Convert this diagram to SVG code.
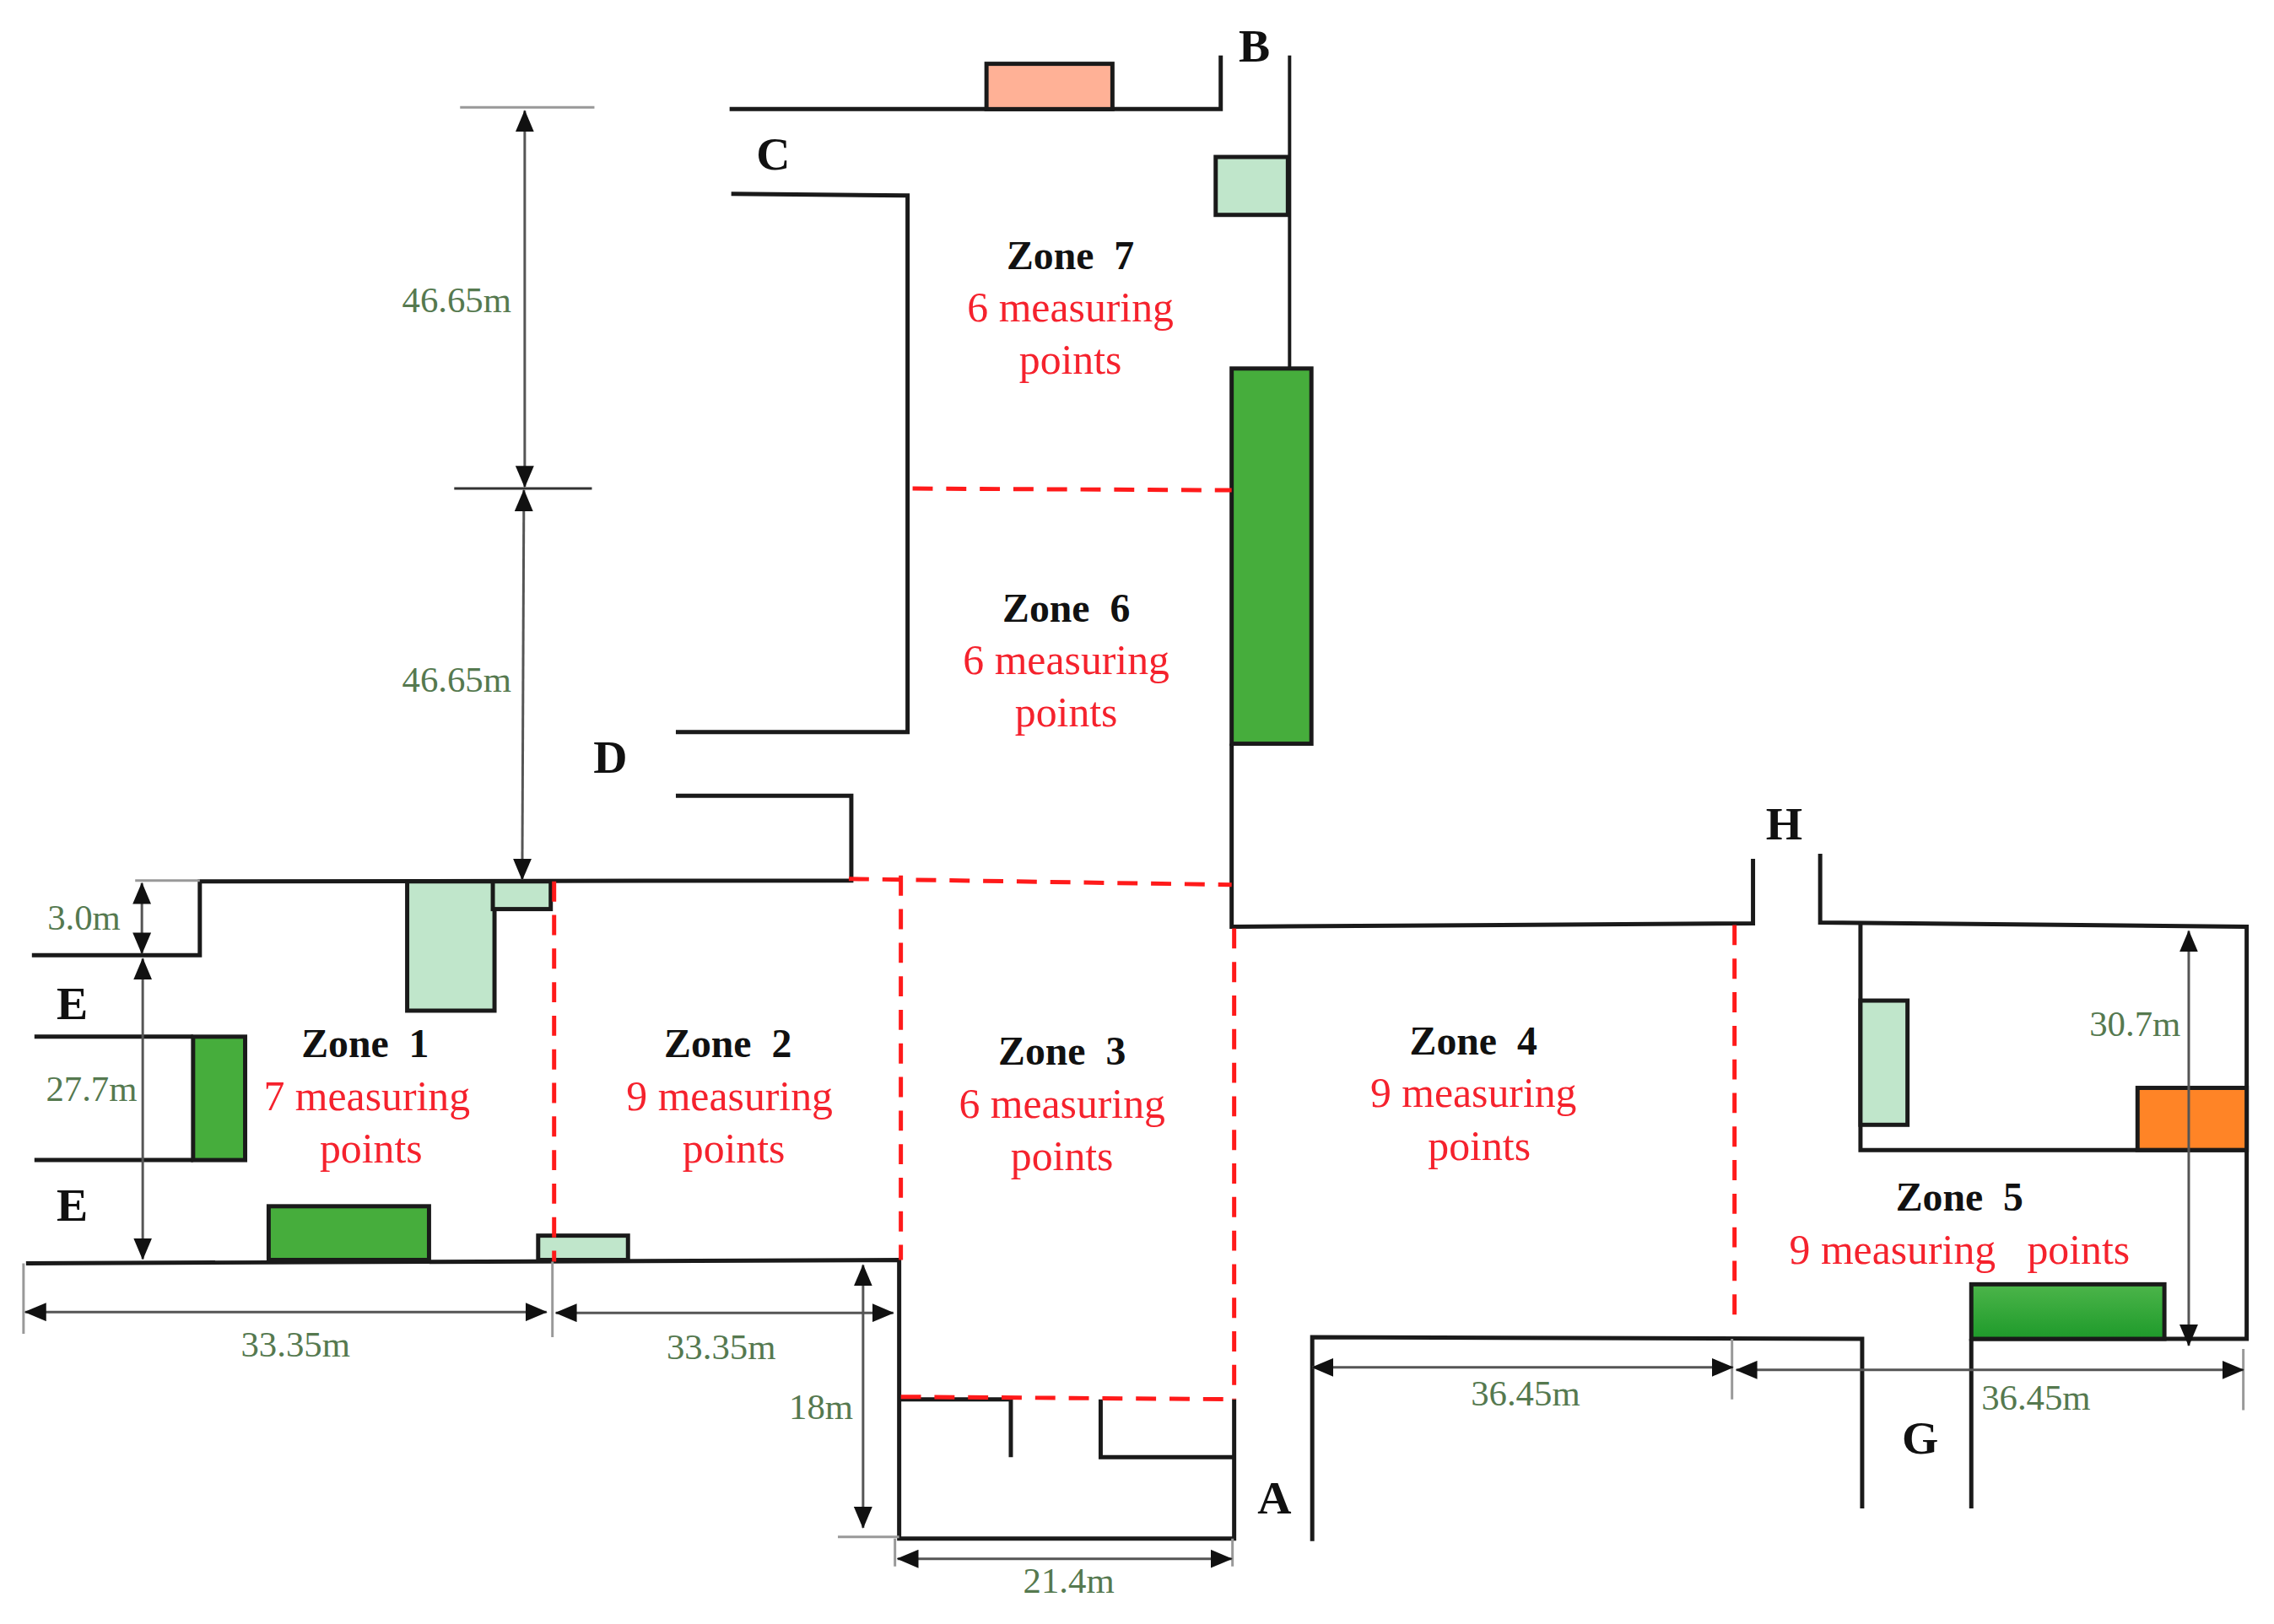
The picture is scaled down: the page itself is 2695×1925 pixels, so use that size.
<svg xmlns="http://www.w3.org/2000/svg" width="2695" height="1925" viewBox="0 0 2695 1925">
<style>
.wall{fill:none;stroke:#1a1a1a;stroke-width:5;stroke-linejoin:miter}
.thin{stroke-width:4}
.box{stroke:#1a1a1a;stroke-width:5}
.lg{fill:#c0e6cb}.dg{fill:#46ad3c}.sal{fill:#ffb196}.or{fill:#ff8426}
.zone{fill:none;stroke:#ff1a1a;stroke-width:5;stroke-dasharray:24 16}
.dim{fill:none;stroke:#555;stroke-width:3;marker-start:url(#ah);marker-end:url(#ah)}
.ext{fill:none;stroke:#999;stroke-width:3}
.ext.dk{stroke:#333}
text{font-family:"Liberation Serif","Times New Roman",serif;text-anchor:middle}
.zt{font-size:48px;font-weight:bold;fill:#111;white-space:pre}
.mp{font-size:50px;fill:#f5222d;white-space:pre}
.dm{font-size:43px;fill:#55794f}
.lb{font-size:56px;font-weight:bold;fill:#111}
</style>
<defs>
<marker id="ah" viewBox="0 0 26 22" refX="25" refY="11" markerWidth="26" markerHeight="22" markerUnits="userSpaceOnUse" orient="auto-start-reverse"><path d="M0 0L26 11L0 22Z" fill="#111"/></marker>
<linearGradient id="gg" x1="0" y1="0" x2="0" y2="1"><stop offset="0" stop-color="#4cb54a"/><stop offset="1" stop-color="#1e9a2a"/></linearGradient>
</defs>
<rect width="2695" height="1925" fill="#fff"/>
<g id="plan" transform="scale(.995)">
<g id="walls">
<path class="wall" d="M869 130H1454V66"/>
<path class="wall thin" d="M1536 66V439"/>
<path class="wall" d="M1467 886V1104L2088 1100V1023"/>
<path class="wall" d="M2168 1017V1099L2676 1104V1595H2348"/>
<path class="wall" d="M2348 1595V1797"/>
<path class="wall" d="M2216 1100V1370H2676"/>
<path class="wall" d="M1563 1836V1593L2218 1595V1797"/>
<path class="wall" d="M31 1505L1071 1501V1833H1470V1667"/>
<path class="wall" d="M1071 1667H1204V1736"/>
<path class="wall" d="M1311 1667V1736H1470"/>
<path class="wall" d="M38 1138H238V1050L1014 1049V948H805"/>
<path class="wall" d="M805 872H1081V233L871 231"/>
<path class="wall" d="M41 1235H230M41 1382H230"/>
</g>
<g id="room-salmon"><rect class="box sal" x="1175" y="76" width="150" height="54"/></g>
<g id="room-b"><rect class="box lg" x="1448" y="187" width="86" height="69"/></g>
<g id="room-zone6"><rect class="box dg" x="1467" y="439" width="95" height="447"/></g>
<g id="room-zone1-a"><rect class="box lg" x="485" y="1050" width="104" height="154"/></g>
<g id="room-zone1-b"><rect class="box lg" x="587" y="1050" width="69" height="33"/></g>
<g id="room-zone1-c"><rect class="box dg" x="230" y="1235" width="62" height="147"/></g>
<g id="room-zone1-d"><rect class="box dg" x="320" y="1437" width="191" height="64"/></g>
<g id="room-zone1-e"><rect class="box lg" x="641" y="1472" width="107" height="29"/></g>
<g id="room-zone5-a"><rect class="box lg" x="2216" y="1192" width="56" height="148"/></g>
<g id="room-zone5-b"><rect class="box or" x="2546" y="1296" width="130" height="74"/></g>
<g id="room-zone5-c"><rect class="box" fill="url(#gg)" x="2348" y="1530" width="230" height="65"/></g>
<g id="zone-boundaries">
<path class="zone" d="M1087 582L1467 584"/>
<path class="zone" d="M1011 1047L1467 1054"/>
<path class="zone" d="M660 1050V1503"/>
<path class="zone" d="M1073 1043V1501"/>
<path class="zone" d="M1470 1106V1667"/>
<path class="zone" d="M1073 1664L1470 1667"/>
<path class="zone" d="M2066 1102V1581"/>
</g>
<g id="connectors">
<path class="ext" d="M548 128H708"/>
<path class="ext dk" d="M541 582H705"/>
<path class="ext" d="M161 1049H238"/>
<path class="ext" d="M28 1505V1589M658 1503V1593M998 1831H1071M1066 1833V1866M1468 1833V1866M2063 1595V1667M2672 1607V1680"/>
<path class="dim" d="M625 132V580"/>
<path class="dim" d="M624 584L622 1048"/>
<path class="dim" d="M169 1052V1136"/>
<path class="dim" d="M170 1142V1500"/>
<path class="dim" d="M30 1563H651"/>
<path class="dim" d="M662 1564H1064"/>
<path class="dim" d="M1028 1507V1820"/>
<path class="dim" d="M1069 1857H1467"/>
<path class="dim" d="M1563 1629H2064"/>
<path class="dim" d="M2068 1632H2672"/>
<path class="dim" d="M2607 1109V1603"/>
</g>
<g id="zone-1"><text class="zt" x="435" y="1259">Zone  1</text><text class="mp" x="437" y="1323">7 measuring</text><text class="mp" x="442" y="1385">points</text></g>
<g id="zone-2"><text class="zt" x="867" y="1259">Zone  2</text><text class="mp" x="869" y="1323">9 measuring</text><text class="mp" x="874" y="1385">points</text></g>
<g id="zone-3"><text class="zt" x="1265" y="1268">Zone  3</text><text class="mp" x="1265" y="1332">6 measuring</text><text class="mp" x="1265" y="1394">points</text></g>
<g id="zone-4"><text class="zt" x="1755" y="1256">Zone  4</text><text class="mp" x="1755" y="1319">9 measuring</text><text class="mp" x="1762" y="1382">points</text></g>
<g id="zone-5"><text class="zt" x="2334" y="1442">Zone  5</text><text class="mp" x="2334" y="1506">9 measuring   points</text></g>
<g id="zone-6"><text class="zt" x="1270" y="741">Zone  6</text><text class="mp" x="1270" y="803">6 measuring</text><text class="mp" x="1270" y="865">points</text></g>
<g id="zone-7"><text class="zt" x="1275" y="321">Zone  7</text><text class="mp" x="1275" y="383">6 measuring</text><text class="mp" x="1275" y="445">points</text></g>
<g id="labels">
<text class="lb" x="1494" y="73">B</text>
<text class="lb" x="921" y="202">C</text>
<text class="lb" x="727" y="921">D</text>
<text class="lb" x="86" y="1214">E</text>
<text class="lb" x="86" y="1454">E</text>
<text class="lb" x="2125" y="1000">H</text>
<text class="lb" x="1518" y="1803">A</text>
<text class="lb" x="2287" y="1732">G</text>
</g>
<g id="dimensions">
<text class="dm" x="544" y="372">46.65m</text>
<text class="dm" x="544" y="824">46.65m</text>
<text class="dm" x="100" y="1108">3.0m</text>
<text class="dm" x="109" y="1312">27.7m</text>
<text class="dm" x="352" y="1616">33.35m</text>
<text class="dm" x="859" y="1619">33.35m</text>
<text class="dm" x="978" y="1690">18m</text>
<text class="dm" x="1273" y="1897">21.4m</text>
<text class="dm" x="1817" y="1674">36.45m</text>
<text class="dm" x="2425" y="1679">36.45m</text>
<text class="dm" x="2543" y="1234">30.7m</text>
</g>
</g>
</svg>
